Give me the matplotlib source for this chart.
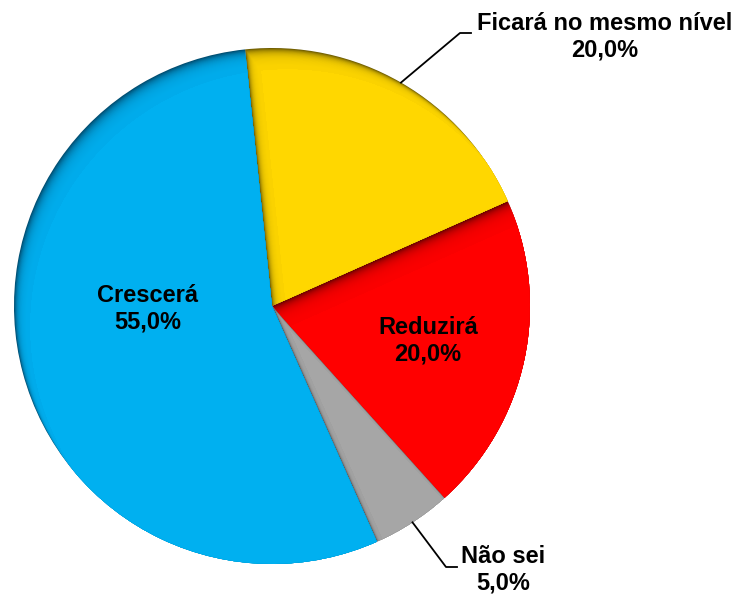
import matplotlib.pyplot as plt
import numpy as np

# respostas (ordem horária a partir do topo)
categorias = ["Ficará no mesmo nível", "Reduzirá", "Não sei", "Crescerá"]
percentuais = [20.0, 20.0, 5.0, 55.0]
cores = ["#FFD700", "#FF0000", "#A6A6A6", "#00B0F0"]
cores_sombra = ["#6E5C00", "#6A0000", "#4A4A4A", "#004E72"]

CENTRO = (272, 292)
RAIO = 258
INICIO = 96

plt.rcParams['font.family'] = ['Liberation Sans', 'DejaVu Sans']

fig = plt.figure(figsize=(7.38, 5.98), dpi=100)
ax = fig.add_axes([0, 0, 1, 1])

# base escura = sombra interna
base, _ = ax.pie(percentuais, colors=cores_sombra, startangle=INICIO,
                 counterclock=False, center=CENTRO, radius=RAIO, frame=True,
                 wedgeprops=dict(linewidth=0))

# camadas deslocadas para baixo/direita, recortadas em cada fatia
deslocs = np.linspace(26, 1, 26)
for i, d in enumerate(deslocs):
    alfa = 1.0 if i == 0 else 0.17
    camada, _ = ax.pie(percentuais, colors=cores, startangle=INICIO,
                       counterclock=False,
                       center=(CENTRO[0] + 0.6 * d, CENTRO[1] - 0.8 * d),
                       radius=RAIO, frame=True,
                       wedgeprops=dict(linewidth=0, alpha=alfa))
    for w, b in zip(camada, base):
        w.set_clip_on(True)
        w.set_clip_path(b)

ax.set_xlim(0, 738)
ax.set_ylim(0, 598)
ax.set_aspect('equal')
ax.axis('off')

fonte = dict(fontsize=17, fontweight='bold', ha='center', va='center',
             linespacing=1.2)


def rotulo(i):
    return "%s\n%s%%" % (categorias[i], ("%.1f" % percentuais[i]).replace('.', ','))


def ponto_borda(i):
    acum = np.cumsum([0] + percentuais)
    meio = INICIO - 3.6 * (acum[i] + percentuais[i] / 2)
    a = np.deg2rad(meio)
    return CENTRO[0] + RAIO * np.cos(a), CENTRO[1] + RAIO * np.sin(a)


# rótulos internos
ax.text(148, 598 - 309, rotulo(3), **fonte)
ax.text(428, 598 - 341, rotulo(1), **fonte)

# rótulos externos com linha de chamada
x0, y0 = ponto_borda(0)
ax.plot([x0, 460, 471], [y0, 598 - 33, 598 - 33], color='black', lw=1.3)
ax.text(605, 598 - 37, rotulo(0), **fonte)

x0, y0 = ponto_borda(2)
ax.plot([x0, 446, 457], [y0, 598 - 567, 598 - 567], color='black', lw=1.3)
ax.text(503, 598 - 570, rotulo(2), **fonte)

fig.savefig("out.png", dpi=100)
